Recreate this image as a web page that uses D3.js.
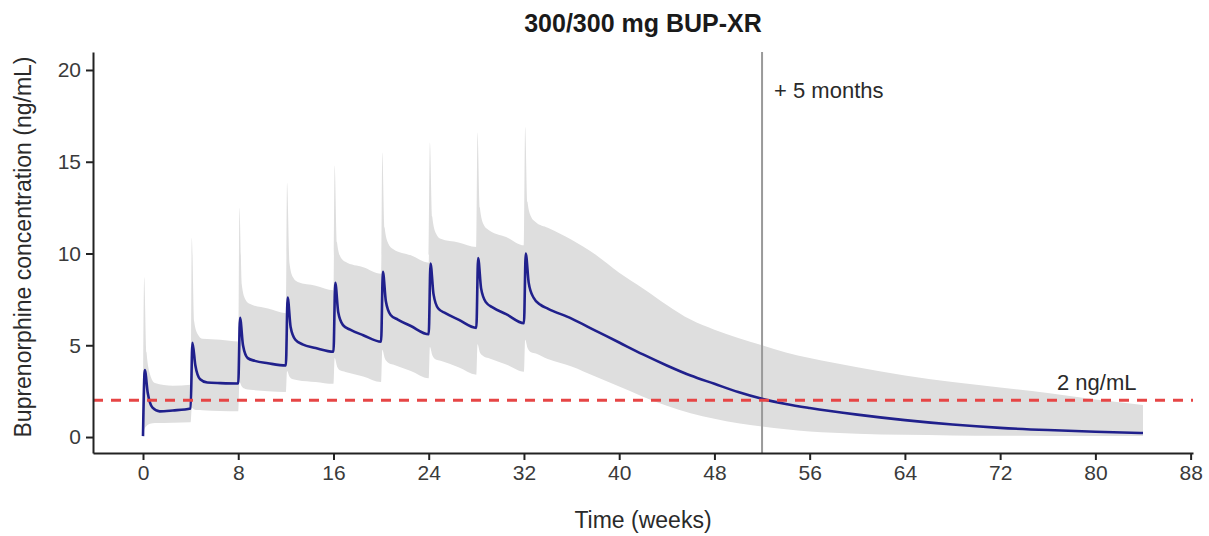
<!DOCTYPE html>
<html>
<head>
<meta charset="utf-8">
<script src="https://cdn.jsdelivr.net/npm/d3@7"></script>
<style>
  body { margin: 0; background: #fff; }
  text { font-family: "Liberation Sans", Arial, sans-serif; }
</style>
</head>
<body>
<div id="chart"></div>
<script>

// median concentration (ng/mL) by week
var medianWeeks = [0, 0.15, 0.4, 0.8, 1.4, 2.5,
  4, 4.15, 4.4, 4.8, 5.4, 6.5,
  8, 8.15, 8.4, 8.8, 9.4, 10.5,
  12, 12.15, 12.4, 12.8, 13.4, 14.5,
  16, 16.15, 16.4, 16.8, 17.4, 18.5,
  20, 20.15, 20.4, 20.8, 21.4, 22.5,
  24, 24.15, 24.4, 24.8, 25.4, 26.5,
  28, 28.15, 28.4, 28.8, 29.4, 30.5,
  32, 32.15, 32.4, 32.8, 33.4, 34, 36, 38, 40, 42, 44, 46, 48, 50, 52, 54, 56, 60, 64, 68, 72, 76, 80, 84];
var medianConc = [0.05, 3.65, 2.4, 1.6, 1.4, 1.45,
  1.56, 5.14, 3.9, 3.15, 2.97, 2.94,
  2.92, 6.5, 5.0, 4.3, 4.15, 4.02,
  3.9, 7.6, 6.0, 5.3, 5.05, 4.85,
  4.65, 8.4, 6.8, 6.1, 5.85, 5.55,
  5.2, 9.0, 7.4, 6.65, 6.4, 6.05,
  5.6, 9.45, 7.8, 7.0, 6.75, 6.4,
  5.95, 9.75, 8.1, 7.35, 7.05, 6.7,
  6.2, 10.0, 8.4, 7.6, 7.2, 7.0, 6.45, 5.8, 5.15, 4.5, 3.9, 3.35, 2.9, 2.45, 2.08, 1.8, 1.58, 1.22, 0.92, 0.68, 0.5, 0.38, 0.29, 0.22];

// 5th - 95th percentile band
var bandWeeks = [0, 0.1, 0.3, 0.6, 1.0, 2.5,
  4, 4.1, 4.3, 4.6, 5.0, 6.5,
  8, 8.1, 8.3, 8.6, 9.0, 10.5,
  12, 12.1, 12.3, 12.6, 13.0, 14.5,
  16, 16.1, 16.3, 16.6, 17.0, 18.5,
  20, 20.1, 20.3, 20.6, 21.0, 22.5,
  24, 24.1, 24.3, 24.6, 25.0, 26.5,
  28, 28.1, 28.3, 28.6, 29.0, 30.5,
  32, 32.1, 32.3, 32.6, 33, 34, 36, 38, 40, 42, 44, 46, 48, 50, 52, 54, 56, 60, 64, 68, 72, 76, 80, 84];
var bandHigh = [0, 8.7, 4.6, 3.4, 2.95, 2.8,
  2.85, 10.85, 6.3, 5.6, 5.35, 5.3,
  5.2, 12.5, 8.3, 7.5, 7.25, 7.0,
  6.75, 13.85, 9.5, 8.7, 8.45, 8.25,
  8.0, 14.8, 10.6, 9.8, 9.55, 9.25,
  8.9, 15.5, 11.4, 10.55, 10.25, 9.9,
  9.5, 16.05, 12.0, 11.1, 10.8, 10.6,
  10.35, 16.6, 12.5, 11.6, 11.3, 10.9,
  10.45, 16.9, 12.8, 12.0, 11.7, 11.4, 10.75, 9.95, 8.95, 8.1, 7.2, 6.4, 5.85, 5.4, 5.0, 4.6, 4.3, 3.8, 3.35, 3.0, 2.7, 2.4, 2.05, 1.75];
var bandLow = [0, 0.4, 0.6, 0.72, 0.76, 0.78,
  0.8, 1.6, 1.5, 1.47, 1.46, 1.42,
  1.4, 3.0, 2.75, 2.62, 2.58, 2.5,
  2.45, 3.6, 3.3, 3.15, 3.1, 3.0,
  2.9, 4.3, 3.85, 3.62, 3.55, 3.3,
  3.0, 4.75, 4.3, 4.05, 3.95, 3.6,
  3.2, 4.9, 4.45, 4.22, 4.15, 3.8,
  3.4, 5.05, 4.6, 4.4, 4.3, 3.95,
  3.56, 5.3, 4.85, 4.62, 4.55, 4.25, 3.85, 3.3, 2.75, 2.2, 1.7, 1.3, 1.0, 0.75, 0.58, 0.42, 0.3, 0.18, 0.12, 0.09, 0.07, 0.06, 0.05, 0.05];

var xTicks = [0, 8, 16, 24, 32, 40, 48, 56, 64, 72, 80, 88];
var yTicks = [0, 5, 10, 15, 20];
var thresholdConc = 2;
var markerWeek = 52;

Chart = function(_parentElement) {
  this.parentElement = _parentElement;
  this.width = 1209;
  this.height = 536;
  this.initVis();
};

Chart.prototype.initVis = function() {
  var vis = this;

  vis.median = medianWeeks.map(function(w, i) { return {w: w, v: medianConc[i]}; });
  vis.band = bandWeeks.map(function(w, i) { return {w: w, lo: bandLow[i], hi: bandHigh[i]}; });

  vis.x = d3.scaleLinear()
    .domain([-4.2, 88.2])
    .range([93, 1193]);

  vis.y = d3.scaleLinear()
    .domain([-0.87, 20.98])
    .range([453, 52]);

  vis.xAxis = d3.axisBottom(vis.x)
    .tickValues(xTicks)
    .tickSize(7)
    .tickSizeOuter(0)
    .tickPadding(5);

  vis.yAxis = d3.axisLeft(vis.y)
    .tickValues(yTicks)
    .tickSize(7)
    .tickSizeOuter(0)
    .tickPadding(5);

  vis.createVis();
};

Chart.prototype.createVis = function() {
  var vis = this;

  vis.svg = d3.select(vis.parentElement).append('svg')
    .attr('width', vis.width)
    .attr('height', vis.height);

  var area = d3.area()
    .x(function(d) { return vis.x(d.w); })
    .y0(function(d) { return vis.y(d.lo); })
    .y1(function(d) { return vis.y(d.hi); })
    .curve(d3.curveMonotoneX);

  vis.svg.append('path')
    .datum(vis.band)
    .attr('d', area)
    .attr('fill', '#dedede');

  // +5 months marker
  vis.svg.append('line')
    .attr('x1', vis.x(markerWeek)).attr('x2', vis.x(markerWeek))
    .attr('y1', vis.y.range()[1]).attr('y2', vis.y.range()[0])
    .attr('stroke', '#9a9a9a')
    .attr('stroke-width', 2);

  var line = d3.line()
    .x(function(d) { return vis.x(d.w); })
    .y(function(d) { return vis.y(d.v); })
    .curve(d3.curveMonotoneX);

  vis.svg.append('path')
    .datum(vis.median)
    .attr('d', line)
    .attr('fill', 'none')
    .attr('stroke', '#20208c')
    .attr('stroke-width', 2.6)
    .attr('stroke-linejoin', 'round');

  vis.svg.append('line')
    .attr('x1', vis.x.range()[0]).attr('x2', vis.x.range()[1])
    .attr('y1', vis.y(thresholdConc)).attr('y2', vis.y(thresholdConc))
    .attr('stroke', '#e64545')
    .attr('stroke-width', 3)
    .attr('stroke-dasharray', '10,8');

  vis.svg.append('g')
    .attr('class', 'x axis')
    .attr('transform', 'translate(0,453)')
    .call(vis.xAxis);

  vis.svg.append('g')
    .attr('class', 'y axis')
    .attr('transform', 'translate(93,0)')
    .call(vis.yAxis);

  vis.svg.selectAll('.axis path, .axis line')
    .attr('stroke', '#222')
    .attr('stroke-width', 2);
  vis.svg.selectAll('.axis text')
    .attr('fill', '#3a3a3a')
    .style('font-size', '21px');

  vis.svg.append('text')
    .attr('x', 643).attr('y', 32)
    .attr('text-anchor', 'middle')
    .style('font-size', '25px')
    .style('font-weight', 'bold')
    .attr('fill', '#1a1a1a')
    .text('300/300 mg BUP-XR');

  vis.svg.append('text')
    .attr('x', 643).attr('y', 528)
    .attr('text-anchor', 'middle')
    .style('font-size', '23px')
    .attr('fill', '#2a2a2a')
    .text('Time (weeks)');

  vis.svg.append('text')
    .attr('transform', 'translate(31,247) rotate(-90)')
    .attr('text-anchor', 'middle')
    .style('font-size', '23px')
    .attr('fill', '#2a2a2a')
    .text('Buprenorphine concentration (ng/mL)');

  vis.svg.append('text')
    .attr('x', vis.x(markerWeek) + 12).attr('y', 98)
    .style('font-size', '22px')
    .attr('fill', '#2a2a2a')
    .text('+ 5 months');

  vis.svg.append('text')
    .attr('x', 1057).attr('y', vis.y(thresholdConc) - 10)
    .style('font-size', '22px')
    .attr('fill', '#2a2a2a')
    .text('2 ng/mL');
};

new Chart('#chart');
</script>
</body>
</html>
